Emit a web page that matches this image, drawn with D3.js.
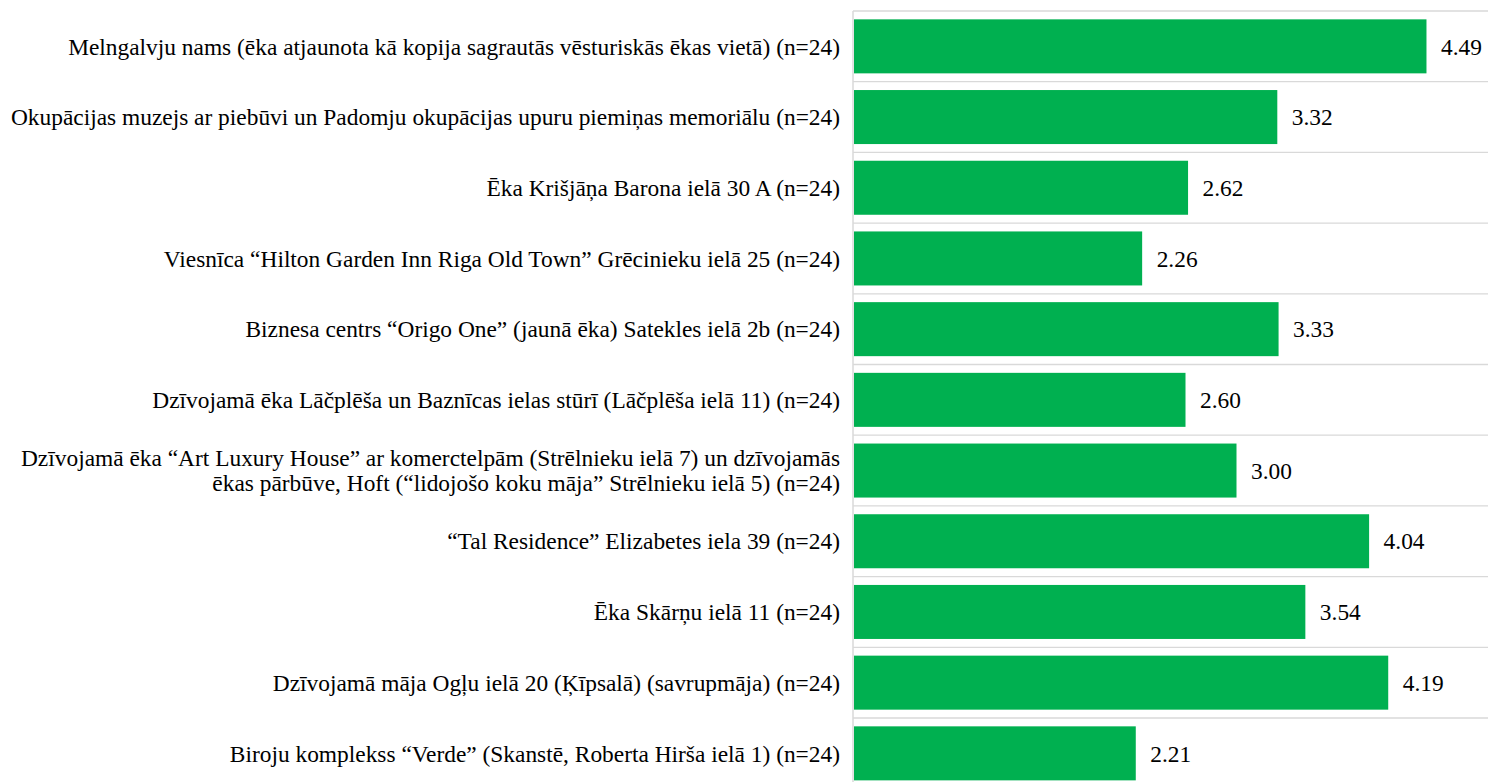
<!DOCTYPE html>
<html><head><meta charset="utf-8">
<script src="https://cdn.jsdelivr.net/npm/d3@7"></script>
<style>body{margin:0;background:#fff}svg{display:block}</style>
</head><body><svg id="c" width="1488" height="782"></svg>
<script>
const categories = [
  ["Melngalvju nams (ēka atjaunota kā kopija sagrautās vēsturiskās ēkas vietā) (n=24)"],
  ["Okupācijas muzejs ar piebūvi un Padomju okupācijas upuru piemiņas memoriālu (n=24)"],
  ["Ēka Krišjāņa Barona ielā 30 A (n=24)"],
  ["Viesnīca “Hilton Garden Inn Riga Old Town” Grēcinieku ielā 25 (n=24)"],
  ["Biznesa centrs “Origo One” (jaunā ēka) Satekles ielā 2b (n=24)"],
  ["Dzīvojamā ēka Lāčplēša un Baznīcas ielas stūrī (Lāčplēša ielā 11) (n=24)"],
  ["Dzīvojamā ēka “Art Luxury House” ar komerctelpām (Strēlnieku ielā 7) un dzīvojamās", "ēkas pārbūve, Hoft (“lidojošo koku māja” Strēlnieku ielā 5) (n=24)"],
  ["“Tal Residence” Elizabetes iela 39 (n=24)"],
  ["Ēka Skārņu ielā 11 (n=24)"],
  ["Dzīvojamā māja Ogļu ielā 20 (Ķīpsalā) (savrupmāja) (n=24)"],
  ["Biroju komplekss “Verde” (Skanstē, Roberta Hirša ielā 1) (n=24)"]
];
const values = [4.49, 3.32, 2.62, 2.26, 3.33, 2.60, 3.00, 4.04, 3.54, 4.19, 2.21];
const domainX = [0, 5];

const svg = d3.select("#c");
const x0 = 854, step = 70.7, topY = 11;
const fs = 23.4;
const x = d3.scaleLinear().domain(domainX).range([x0, x0 + 5 * 127.5]);
const idx = d3.range(values.length);
const y = d3.scaleBand().domain(idx).range([topY, topY + step * values.length]).paddingInner(0.236).paddingOuter(0.118);

// separators
svg.append("g").selectAll("line").data(d3.range(values.length + 1)).join("line")
  .attr("x1", x0 - 1).attr("x2", 1488)
  .attr("y1", d => topY + d * step).attr("y2", d => topY + d * step)
  .attr("stroke", "#d9d9d9").attr("stroke-width", 1.3);

// axis line
svg.append("line").attr("x1", x0 - 1).attr("x2", x0 - 1).attr("y1", topY).attr("y2", 782)
  .attr("stroke", "#d9d9d9").attr("stroke-width", 1.5);

svg.append("g").selectAll("rect").data(idx).join("rect")
  .attr("x", x(0)).attr("y", i => y(i)).attr("height", y.bandwidth())
  .attr("width", i => x(values[i]) - x(0)).attr("fill", "#00B050");

const font = "'Liberation Serif', 'Times New Roman', serif";
svg.append("g").selectAll("text").data(idx).join("text")
  .attr("x", i => x(values[i]) + 14.5).attr("y", i => y(i) + y.bandwidth() / 2)
  .attr("dy", "0.35em").attr("font-family", font).attr("font-size", fs).attr("fill", "#000")
  .text(i => values[i].toFixed(2));

const lab = svg.append("g").selectAll("text").data(idx).join("text")
  .attr("text-anchor", "end").attr("font-family", font).attr("font-size", fs).attr("fill", "#000")
  .attr("x", 840).attr("y", i => y(i) + y.bandwidth() / 2);
lab.each(function(i) {
  const lines = categories[i];
  const t = d3.select(this);
  const lh = 25;
  lines.forEach((l, k) => {
    t.append("tspan").attr("x", 840)
      .attr("dy", k === 0 ? (0.35 * fs - (lines.length - 1) * lh / 2) + "px" : lh + "px")
      .text(l);
  });
});
</script></body></html>
